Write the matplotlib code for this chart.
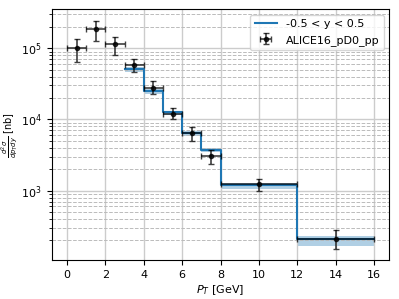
import matplotlib
matplotlib.use("Agg")
import matplotlib.pyplot as plt
import numpy as np

# Data points (ALICE16_pD0_pp)
pt_centers = [0.5, 1.5, 2.5, 3.5, 4.5, 5.5, 6.5, 7.5, 10.0, 14.0]
pt_halfwidth = [0.5, 0.5, 0.5, 0.5, 0.5, 0.5, 0.5, 0.5, 2.0, 2.0]
data_vals = [1.0e5, 1.87e5, 1.14e5, 5.9e4, 2.8e4, 1.21e4, 6.4e3, 3.04e3, 1.23e3, 212]
data_up = [1.34e5, 2.44e5, 1.46e5, 7.1e4, 3.44e4, 1.47e4, 7.8e3, 3.73e3, 1.47e3, 278]
data_lo = [6.4e4, 1.25e5, 7.97e4, 4.7e4, 2.28e4, 1.0e4, 5.0e3, 2.37e3, 0.99e3, 150]

# Theory histogram (-0.5 < y < 0.5)
bin_edges = [3, 4, 5, 6, 7, 8, 12, 16]
theory_vals = [5.07e4, 2.54e4, 1.26e4, 6.5e3, 3.77e3, 1.21e3, 210]
theory_lo = [4.65e4, 2.3e4, 1.15e4, 5.9e3, 3.45e3, 1.07e3, 167]
theory_hi = [5.4e4, 2.7e4, 1.33e4, 6.9e3, 3.95e3, 1.27e3, 231]

fig = plt.figure(figsize=(3.99, 2.99), dpi=100)
ax = fig.add_axes([0.1296, 0.1294, 0.8461, 0.8396])

edges = np.array(bin_edges, dtype=float)
tv = np.array(theory_vals + [theory_vals[-1]])
tl = np.array(theory_lo + [theory_lo[-1]])
th = np.array(theory_hi + [theory_hi[-1]])
ax.fill_between(edges, tl, th, step='post', color='tab:blue', alpha=0.35, lw=0)
ax.step(edges, tv, where='post', color='tab:blue', lw=1.5, label='-0.5 < y < 0.5')

y = np.array(data_vals)
yerr = np.array([y - np.array(data_lo), np.array(data_up) - y])
ax.errorbar(pt_centers, y, xerr=pt_halfwidth, yerr=yerr, fmt='o', color='black',
            ms=3, capsize=2, elinewidth=1.2, alpha=0.75, label='ALICE16_pD0_pp')

ax.set_yscale('log')
ax.set_xlim(-0.8, 16.8)
ax.set_ylim(1.05e2, 3.53e5)
ax.set_xticks([0, 2, 4, 6, 8, 10, 12, 14, 16])
ax.grid(True, which='major', color='#cccccc', lw=1.0)
ax.grid(True, which='minor', axis='y', color='#bbbbbb', ls='--', lw=0.7)
ax.tick_params(labelsize=8)
ax.set_xlabel('$P_T$ [GeV]', fontsize=8, labelpad=2)
ax.set_ylabel(r'$\frac{d^2\sigma}{dp_T dy}$ [nb]', fontsize=7, labelpad=1)
ax.legend(loc='upper right', fontsize=8)

fig.savefig('out.png', dpi=100)
